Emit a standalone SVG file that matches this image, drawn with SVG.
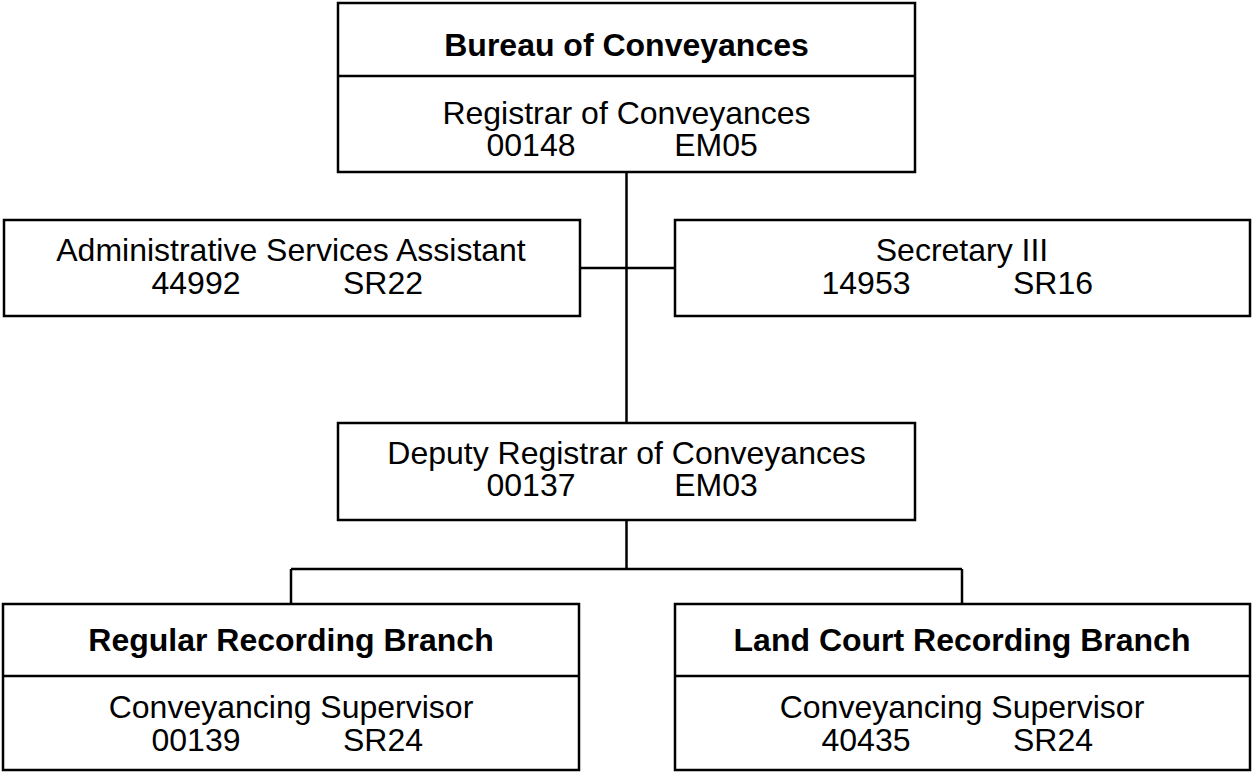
<svg xmlns="http://www.w3.org/2000/svg" width="1253" height="773" viewBox="0 0 1253 773">
<style>
.box{fill:#fff;stroke:#000;stroke-width:2.5}
.ln{fill:none;stroke:#000;stroke-width:2.5}
.t{font-family:"Liberation Sans",Arial,sans-serif;font-size:32px;fill:#000;text-anchor:middle}
.b{font-weight:bold}
</style>
<rect width="1253" height="773" fill="#fff"/>
<g id="connectors">
<line class="ln" x1="626.5" y1="172" x2="626.5" y2="423"/>
<line class="ln" x1="580" y1="268" x2="675" y2="268"/>
<line class="ln" x1="626.5" y1="520" x2="626.5" y2="569"/>
<line class="ln" x1="291" y1="569" x2="962" y2="569"/>
<line class="ln" x1="291" y1="569" x2="291" y2="604"/>
<line class="ln" x1="962" y1="569" x2="962" y2="604"/>
</g>
<g id="bureau">
<rect class="box" x="338" y="3" width="577" height="169"/>
<line class="ln" x1="338" y1="76" x2="915" y2="76"/>
<text class="t b" x="626.5" y="56">Bureau of Conveyances</text>
<text class="t" x="626.5" y="124">Registrar of Conveyances</text>
<text class="t" x="531" y="156">00148</text>
<text class="t" x="716" y="156">EM05</text>
</g>
<g id="admin">
<rect class="box" x="4" y="220" width="576" height="96"/>
<text class="t" x="291" y="261">Administrative Services Assistant</text>
<text class="t" x="196" y="294">44992</text>
<text class="t" x="383" y="294">SR22</text>
</g>
<g id="secretary">
<rect class="box" x="675" y="220" width="575" height="96"/>
<text class="t" x="962" y="261">Secretary III</text>
<text class="t" x="866" y="294">14953</text>
<text class="t" x="1053" y="294">SR16</text>
</g>
<g id="deputy">
<rect class="box" x="338" y="423" width="577" height="97"/>
<text class="t" x="626.5" y="464">Deputy Registrar of Conveyances</text>
<text class="t" x="531" y="496">00137</text>
<text class="t" x="716" y="496">EM03</text>
</g>
<g id="regular">
<rect class="box" x="3" y="604" width="576" height="166"/>
<line class="ln" x1="3" y1="676" x2="579" y2="676"/>
<text class="t b" x="291" y="651">Regular Recording Branch</text>
<text class="t" x="291" y="718">Conveyancing Supervisor</text>
<text class="t" x="196" y="751">00139</text>
<text class="t" x="383" y="751">SR24</text>
</g>
<g id="landcourt">
<rect class="box" x="675" y="604" width="575" height="166"/>
<line class="ln" x1="675" y1="676" x2="1250" y2="676"/>
<text class="t b" x="962" y="651">Land Court Recording Branch</text>
<text class="t" x="962" y="718">Conveyancing Supervisor</text>
<text class="t" x="866" y="751">40435</text>
<text class="t" x="1053" y="751">SR24</text>
</g>
</svg>
